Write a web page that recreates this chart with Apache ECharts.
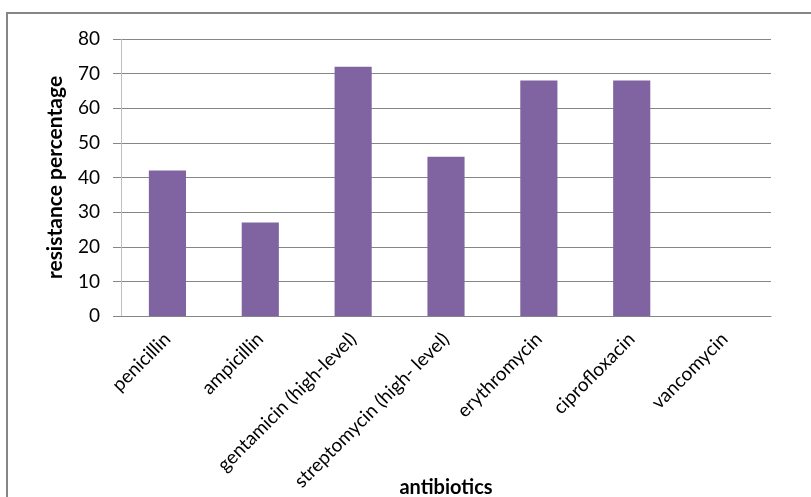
<!DOCTYPE html>
<html>
<head>
<meta charset="utf-8">
<script src="https://cdn.jsdelivr.net/npm/echarts@6/dist/echarts.min.js"></script>
<style>
  html, body { margin: 0; padding: 0; background: #fff; }
  #chart { width: 811px; height: 497px; }
</style>
</head>
<body>
<div id="chart"></div>
<script>
// Antibiotic resistance by drug
const antibiotics = [
  'penicillin',
  'ampicillin',
  'gentamicin (high-level)',
  'streptomycin (high- level)',
  'erythromycin',
  'ciprofloxacin',
  'vancomycin'
];
const resistancePct = [42, 27, 72, 46, 68, 68, 0];
const yTicks = [0, 10, 20, 30, 40, 50, 60, 70, 80];

const FONT = 'Lato';
const chart = echarts.init(document.getElementById('chart'));

chart.setOption({
  animation: false,
  backgroundColor: '#ffffff',
  textStyle: { fontFamily: FONT, color: '#000' },
  grid: {
    left: 121, right: 40, top: 39, bottom: 181,
    containLabel: false,
    outerBoundsMode: 'none'
  },
  graphic: [{
    type: 'rect',
    shape: { x: 7, y: 13, width: 900, height: 600 },
    style: { fill: 'none', stroke: '#868686', lineWidth: 2 },
    silent: true
  }],
  xAxis: {
    type: 'category',
    data: antibiotics,
    name: 'antibiotics',
    nameLocation: 'middle',
    nameGap: 162,
    nameMoveOverlap: false,
    nameTextStyle: { fontFamily: FONT, fontWeight: 'bold', fontSize: 20, color: '#000' },
    axisLine: { show: true, lineStyle: { color: '#868686', width: 1 } },
    axisTick: { show: false },
    axisLabel: {
      interval: 0,
      rotate: 45,
      margin: 20,
      fontFamily: FONT,
      fontSize: 19,
      color: '#000'
    },
    splitLine: { show: false }
  },
  yAxis: {
    type: 'value',
    min: yTicks[0],
    max: yTicks[yTicks.length - 1],
    interval: 10,
    name: 'resistance percentage',
    nameLocation: 'middle',
    nameGap: 55,
    nameRotate: 90,
    nameMoveOverlap: false,
    nameTextStyle: { fontFamily: FONT, fontWeight: 'bold', fontSize: 21, color: '#000' },
    axisLine: { show: true, lineStyle: { color: '#bfbfbf', width: 1 } },
    axisTick: { show: true, length: 8, inside: false, lineStyle: { color: '#868686' } },
    axisLabel: { margin: 21, fontFamily: FONT, fontSize: 19, color: '#000' },
    splitLine: { show: true, lineStyle: { color: '#868686', width: 1 } }
  },
  series: [{
    type: 'bar',
    data: resistancePct,
    barWidth: '40%',
    itemStyle: { color: '#8064a2' },
    label: { show: false }
  }]
});
</script>
</body>
</html>
